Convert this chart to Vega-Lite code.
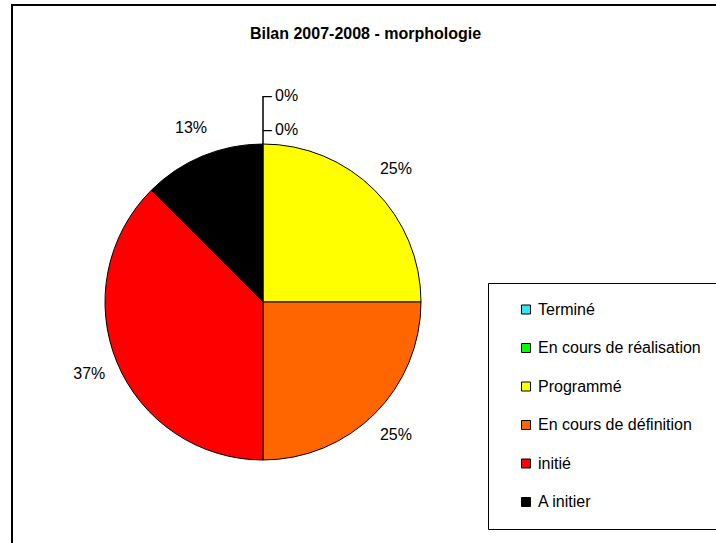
{
  "$schema": "https://vega.github.io/schema/vega-lite/v6.json",
  "width": 716,
  "height": 543,
  "autosize": {"type": "fit", "contains": "padding"},
  "padding": {"left": 11, "top": 4, "right": -4, "bottom": -4},
  "background": "#ffffff",
  "title": {
    "text": "Bilan 2007-2008 - morphologie",
    "anchor": "middle",
    "frame": "group",
    "offset": -29,
    "dy": 17,
    "baseline": "middle",
    "font": "Liberation Sans",
    "fontSize": 16,
    "fontWeight": "bold",
    "color": "#000000"
  },
  "config": {
    "view": {"stroke": null},
    "font": "Liberation Sans"
  },
  "data": {
    "values": [
      {"categorie": "Terminé", "valeur": 0, "label": "0%", "rang": 1},
      {"categorie": "En cours de réalisation", "valeur": 0, "label": "0%", "rang": 2},
      {"categorie": "Programmé", "valeur": 2, "label": "25%", "rang": 3},
      {"categorie": "En cours de définition", "valeur": 2, "label": "25%", "rang": 4},
      {"categorie": "initié", "valeur": 3, "label": "37%", "rang": 5},
      {"categorie": "A initier", "valeur": 1, "label": "13%", "rang": 6}
    ]
  },
  "layer": [
    {
      "data": {"values": [{"cadre": 1}]},
      "mark": {"type": "rect", "x": 0, "x2": "width", "y": 0, "y2": "height", "filled": false, "stroke": "#000000", "strokeWidth": 2},
      "encoding": {}
    },
    {
      "mark": {"type": "arc", "outerRadius": 158, "stroke": "#000000", "strokeWidth": 1, "x": {"expr": "width/2 - 102.5"}, "y": {"expr": "height/2 + 26.5"}},
      "encoding": {
        "theta": {"field": "valeur", "type": "quantitative", "stack": true},
        "order": {"field": "rang", "type": "quantitative"},
        "color": {
          "field": "categorie",
          "type": "nominal",
          "scale": {
            "domain": ["Terminé", "En cours de réalisation", "Programmé", "En cours de définition", "initié", "A initier"],
            "range": ["#33E6F5", "#00FF00", "#FFFF00", "#FF6600", "#FF0000", "#000000"]
          },
          "legend": {
            "title": null,
            "orient": "none",
            "legendX": 476,
            "legendY": 278,
            "strokeColor": "#000000",
            "fillColor": "#ffffff",
            "padding": 18.5,
            "symbolType": "square",
            "symbolSize": 81,
            "symbolStrokeColor": "#000000",
            "symbolStrokeWidth": 1,
            "symbolOffset": 11.5,
            "labelOffset": 4,
            "labelFont": "Liberation Sans",
            "labelFontSize": 16,
            "labelColor": "#000000",
            "labelLimit": 300,
            "rowPadding": 22.5
          }
        }
      }
    },
    {
      "transform": [{"filter": "datum.valeur > 0"}],
      "mark": {"type": "text", "radius": 188, "align": "center", "baseline": "middle", "fontSize": 16, "font": "Liberation Sans", "color": "#000000", "x": {"expr": "width/2 - 102.5"}, "y": {"expr": "height/2 + 26.5"}},
      "encoding": {
        "theta": {"field": "valeur", "type": "quantitative", "stack": true},
        "order": {"field": "rang", "type": "quantitative"},
        "text": {"field": "label", "type": "nominal"}
      }
    },
    {
      "transform": [{"filter": "datum.categorie === 'Terminé'"}],
      "mark": {"type": "text", "radius": 206, "align": "left", "dx": 12, "baseline": "middle", "fontSize": 16, "font": "Liberation Sans", "color": "#000000", "x": {"expr": "width/2 - 102.5"}, "y": {"expr": "height/2 + 26.5"}},
      "encoding": {
        "theta": {"field": "valeur", "type": "quantitative", "stack": true},
        "text": {"field": "label", "type": "nominal"}
      }
    },
    {
      "transform": [{"filter": "datum.categorie === 'En cours de réalisation'"}],
      "mark": {"type": "text", "radius": 172, "align": "left", "dx": 12, "baseline": "middle", "fontSize": 16, "font": "Liberation Sans", "color": "#000000", "x": {"expr": "width/2 - 102.5"}, "y": {"expr": "height/2 + 26.5"}},
      "encoding": {
        "theta": {"field": "valeur", "type": "quantitative", "stack": true},
        "text": {"field": "label", "type": "nominal"}
      }
    },
    {
      "transform": [{"filter": "datum.categorie === 'Terminé'"}],
      "mark": {"type": "arc", "innerRadius": 158, "outerRadius": 206, "filled": false, "stroke": "#000000", "strokeWidth": 1, "x": {"expr": "width/2 - 102.5"}, "y": {"expr": "height/2 + 26.5"}},
      "encoding": {
        "theta": {"field": "valeur", "type": "quantitative", "stack": true}
      }
    },
    {
      "transform": [{"filter": "datum.categorie === 'Terminé'"}],
      "mark": {"type": "text", "text": "–", "radius": 206, "align": "left", "dx": 0, "dy": 4.7, "baseline": "alphabetic", "fontSize": 16, "font": "Liberation Sans", "color": "#000000", "x": {"expr": "width/2 - 102.5"}, "y": {"expr": "height/2 + 26.5"}},
      "encoding": {
        "theta": {"field": "valeur", "type": "quantitative", "stack": true}
      }
    },
    {
      "transform": [{"filter": "datum.categorie === 'En cours de réalisation'"}],
      "mark": {"type": "text", "text": "–", "radius": 172, "align": "left", "dx": 0, "dy": 4.7, "baseline": "alphabetic", "fontSize": 16, "font": "Liberation Sans", "color": "#000000", "x": {"expr": "width/2 - 102.5"}, "y": {"expr": "height/2 + 26.5"}},
      "encoding": {
        "theta": {"field": "valeur", "type": "quantitative", "stack": true}
      }
    }
  ]
}
